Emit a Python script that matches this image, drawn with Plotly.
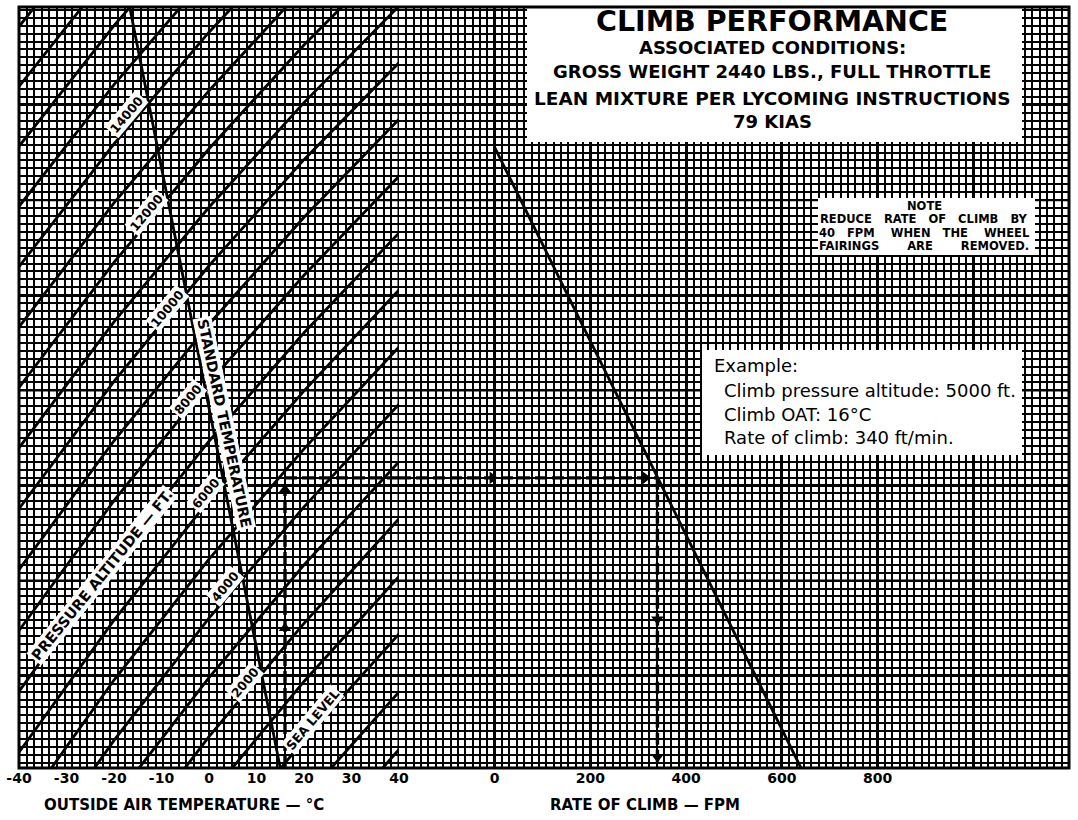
import plotly.graph_objects as go
import numpy as np

# ---------------- data ----------------
temp_tickvals = [-40, -30, -20, -10, 0, 10, 20, 30, 40]
temp_ticktext = ["-40", "-30", "-20", "-10", "0", "10", "20", "30", "40"]
roc_tickvals = [-200, 0, 200, 400, 600, 800, 1000, 1200]
roc_ticktext = ["", "0", "200", "400", "600", "800", "", ""]

# pressure-altitude guide lines: density-altitude value (ft) at each OAT
guide_temps = [-40, -20, 0, 20, 40]
pressure_altitudes = [-2000, -1000, 0, 1000, 2000, 3000, 4000, 5000, 6000, 7000,
                      8000, 9000, 10000, 11000, 12000, 13000, 14000, 15000,
                      16000, 17000, 18000]
da_at_m40 = [-10020, -8720, -7420, -6130, -4830, -3540, -2250, -960, 330, 1610,
             2890, 4170, 5450, 6730, 8000, 9270, 10540, 11810, 13070, 14330, 15590]
da_at_m20 = [-7050, -5770, -4490, -3220, -1950, -680, 580, 1850, 3110, 4370,
             5620, 6880, 8130, 9380, 10630, 11880, 13120, 14370, 15610, 16840, 18080]
da_at_0 = [-4340, -3090, -1840, -590, 660, 1900, 3150, 4390, 5630, 6870,
           8100, 9330, 10560, 11790, 13020, 14240, 15470, 16690, 17910, 19120, 20340]
da_at_p20 = [-1880, -640, 590, 1820, 3040, 4270, 5490, 6710, 7930, 9150,
             10360, 11580, 12790, 13990, 15200, 16410, 17610, 18810, 20010, 21200, 22400]
da_at_p40 = [390, 1600, 2820, 4030, 5240, 6440, 7650, 8850, 10050, 11250,
             12440, 13640, 14830, 16020, 17210, 18390, 19580, 20760, 21940, 23110, 24290]

# standard temperature line
std_temp = [15, -16.7]
std_da = [0, 16000]

# rate of climb line
roc_fpm = [640, 0]
roc_da = [0, 13050]

# example
example_oat = 16
example_da = 6100
example_roc = 340
up_arrow_da = [2940, 5850]
right_arrow_roc = [-5, 315]
down_arrow_da = [3130, 230]

# line labels
alt_label_text = ["14000", "12000", "10000", "8000", "6000", "4000", "2000", "SEA LEVEL"]
alt_label_t = [-17.3, -13.1, -8.8, -4.4, -0.8, 3.4, 7.6, 21.9]
alt_label_da = [13730, 11670, 9670, 7740, 5780, 3810, 1790, 1010]

# ---------------- figure ----------------
W, H = 1078, 820
ML, MR, MT, MB = 19, 9, 7, 52
PW, PH = W - ML - MR, H - MT - MB
split = 380 / PW


def pp(px, py):
    """pixel -> paper coordinates"""
    return (px - ML) / PW, (H - MB - py) / PH


FONT = "DejaVu Sans"
fig = go.Figure()

line_style = dict(color="black", width=2.8)
table = [da_at_m40, da_at_m20, da_at_0, da_at_p20, da_at_p40]
for i, pa in enumerate(pressure_altitudes):
    fig.add_trace(go.Scatter(x=guide_temps, y=[col[i] for col in table], mode="lines",
                             line=line_style, xaxis="x", yaxis="y",
                             hoverinfo="skip", showlegend=False))

fig.add_trace(go.Scatter(x=std_temp, y=std_da, mode="lines", line=line_style,
                         xaxis="x", yaxis="y", hoverinfo="skip", showlegend=False))
fig.add_trace(go.Scatter(x=roc_fpm, y=roc_da, mode="lines", line=line_style,
                         xaxis="x2", yaxis="y", hoverinfo="skip", showlegend=False))

dash_style = dict(color="black", width=3.4, dash="12px,5px")
fig.add_trace(go.Scatter(x=[example_oat, example_oat], y=[0, example_da], mode="lines",
                         line=dash_style, xaxis="x", yaxis="y", showlegend=False))
fig.add_trace(go.Scatter(x=[example_oat, 40], y=[example_da, example_da], mode="lines",
                         line=dash_style, xaxis="x", yaxis="y", showlegend=False))
fig.add_trace(go.Scatter(x=[-200, example_roc], y=[example_da, example_da], mode="lines",
                         line=dash_style, xaxis="x2", yaxis="y", showlegend=False))
fig.add_trace(go.Scatter(x=[example_roc, example_roc], y=[example_da, 0], mode="lines",
                         line=dash_style, xaxis="x2", yaxis="y", showlegend=False))

arrow_marker = dict(color="black", size=11)
fig.add_trace(go.Scatter(x=[example_oat] * len(up_arrow_da), y=up_arrow_da, mode="markers",
                         marker=dict(symbol="triangle-up", **arrow_marker),
                         xaxis="x", yaxis="y", showlegend=False))
fig.add_trace(go.Scatter(x=right_arrow_roc, y=[example_da] * len(right_arrow_roc), mode="markers",
                         marker=dict(symbol="triangle-right", **arrow_marker),
                         xaxis="x2", yaxis="y", showlegend=False))
fig.add_trace(go.Scatter(x=[example_roc] * len(down_arrow_da), y=down_arrow_da, mode="markers",
                         marker=dict(symbol="triangle-down", **arrow_marker),
                         xaxis="x2", yaxis="y", showlegend=False))

grid_minor = dict(showgrid=True, gridcolor="black", gridwidth=1.5, ticks="")
tickfont = dict(family=FONT, size=14, color="black", weight="bold")

fig.update_layout(
    width=W, height=H,
    margin=dict(l=ML, r=MR, t=MT, b=MB, pad=0, autoexpand=False),
    paper_bgcolor="white", plot_bgcolor="white",
    showlegend=False,
    xaxis=dict(domain=[0, split], range=[-40, 40], tickmode="array",
               tickvals=temp_tickvals, ticktext=temp_ticktext, showgrid=False,
               zeroline=False, ticks="", tickfont=tickfont, anchor="y",
               ticklabeloverflow="allow",
               minor=dict(tickmode="linear", tick0=-40, dtick=1.6, **grid_minor)),
    xaxis2=dict(domain=[split, 1], range=[-200, 1200], tickmode="array",
                tickvals=roc_tickvals, ticktext=roc_ticktext, showgrid=True,
                gridcolor="black", gridwidth=3, zeroline=False, ticks="",
                tickfont=tickfont, anchor="y", ticklabeloverflow="allow",
                minor=dict(tickmode="linear", tick0=0, dtick=200 / 13, **grid_minor)),
    yaxis=dict(range=[0, 16000], tickmode="linear", tick0=1940, dtick=4000,
               showticklabels=False, showgrid=True, gridcolor="black", gridwidth=3,
               zeroline=False, ticks="", anchor="x",
               minor=dict(tickmode="linear", tick0=1940, dtick=2000 / 12, **grid_minor)),
)

shapes = []
for v in [3940, 7940, 11940]:
    shapes.append(dict(type="line", xref="paper", yref="y", x0=0, x1=1, y0=v, y1=v,
                       line=dict(color="black", width=2.2), layer="above"))


def white_box(x0, y0, x1, y1):
    a0, b0 = pp(x0, y1)
    a1, b1 = pp(x1, y0)
    return dict(type="rect", xref="paper", yref="paper", x0=a0, y0=b0, x1=a1, y1=b1,
                fillcolor="white", line=dict(width=0), layer="above")


shapes.append(white_box(527, 7, 1022, 142))
shapes.append(white_box(818, 198, 1035, 255))
shapes.append(white_box(702, 350, 1022, 455))
shapes.append(dict(type="line", xref="x", yref="paper", x0=40, x1=40, y0=0, y1=1,
                   line=dict(color="black", width=3), layer="above"))
shapes.append(dict(type="rect", xref="paper", yref="paper", x0=0, y0=0, x1=1, y1=1,
                   line=dict(color="black", width=3), layer="above"))
fig.update_layout(shapes=shapes)

ann = []
lab_font = dict(family=FONT, size=12.5, color="black", weight="bold")
for txt, t, d in zip(alt_label_text, alt_label_t, alt_label_da):
    ann.append(dict(x=t, y=d, xref="x", yref="y", text=txt, showarrow=False,
                    textangle=-50, font=lab_font, bgcolor="white", borderpad=1))
ann.append(dict(x=-22.5, y=4058, xref="x", yref="y", text="PRESSURE ALTITUDE \u2014 FT.",
                showarrow=False, textangle=-51,
                font=dict(family=FONT, size=14.5, color="black", weight="bold"),
                bgcolor="white", borderpad=1))
ann.append(dict(x=3.2, y=7254, xref="x", yref="y", text="STANDARD TEMPERATURE",
                showarrow=False, textangle=78,
                font=dict(family=FONT, size=14.5, color="black", weight="bold"),
                bgcolor="white", borderpad=1))


def text_px(px, py, txt, size, bold=True, xanchor="center"):
    a, b = pp(px, py)
    f = dict(family=FONT, size=size, color="black")
    if bold:
        f["weight"] = "bold"
    return dict(x=a, y=b, xref="paper", yref="paper", text=txt, showarrow=False,
                xanchor=xanchor, yanchor="middle", font=f)


ann.append(text_px(772, 21, "CLIMB PERFORMANCE", 28.5))
ann.append(text_px(772, 48, "ASSOCIATED CONDITIONS:", 18))
ann.append(text_px(772, 72, "GROSS WEIGHT 2440 LBS., FULL THROTTLE", 18))
ann.append(text_px(772, 98, "LEAN MIXTURE PER LYCOMING INSTRUCTIONS", 18.5))
ann.append(text_px(772, 121, "79 KIAS", 18))

nb = "\u00a0"
ann.append(text_px(924, 206, "NOTE", 11.5))
ann.append(text_px(924, 219, nb.join(["REDUCE", "", "", "RATE", "", "", "OF", "", "", "CLIMB", "", "", "BY"]), 11.5))
ann.append(text_px(924, 233, nb.join(["40", "", "", "FPM", "", "", "", "WHEN", "", "", "THE", "", "", "", "WHEEL"]), 11.5))
ann.append(text_px(924, 246, nb.join(["FAIRINGS"] + [""] * 6 + ["ARE"] + [""] * 6 + ["REMOVED."]), 11.5))

ann.append(text_px(712, 366, "Example:", 18, bold=False, xanchor="left"))
ann.append(text_px(722, 391, "Climb pressure altitude: 5000 ft.", 18, bold=False, xanchor="left"))
ann.append(text_px(722, 414, "Climb OAT: 16\u00b0C", 18, bold=False, xanchor="left"))
ann.append(text_px(722, 437, "Rate of climb: 340 ft/min.", 18, bold=False, xanchor="left"))

ann.append(text_px(184, 805, "OUTSIDE AIR TEMPERATURE \u2014 \u00b0C", 15))
ann.append(text_px(645, 805, "RATE OF CLIMB \u2014 FPM", 15))
fig.update_layout(annotations=ann)

# remove the browser's default 8 px page margin so the figure fills the window
fig.write_html("out.html", config={"displayModeBar": False},
               post_script="document.body.style.margin='0px';")
